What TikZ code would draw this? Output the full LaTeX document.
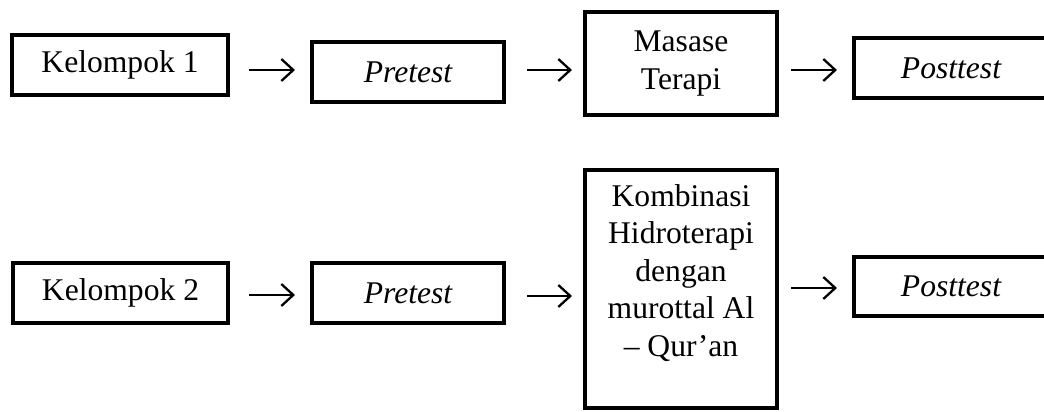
\documentclass[tikz,border=0pt]{standalone}
\usepackage{fontspec}
\setmainfont{Liberation Serif}
\usetikzlibrary{arrows.meta}
\begin{document}
\begin{tikzpicture}[x=1pt,y=-1pt,
  box/.style={draw, line width=4pt, inner sep=0pt, align=center,
    font=\fontsize{31.6}{37.5}\selectfont},
  arr/.style={line width=2.3pt, -{Straight Barb[length=12pt,width=22pt]}}]
\useasboundingbox (0,0) rectangle (1044,412);
% row 1
\node[box, minimum width=216pt, minimum height=60pt] (k1) at (120,65) {Kelompok 1};
\node[box, minimum width=192pt, minimum height=60pt] (p1) at (408,72) {\itshape Pretest};
\node[box, minimum width=192pt, minimum height=103pt] (m1) at (681,63.5) {Masase\\Terapi};
\node[box, minimum width=194pt, minimum height=60pt] (q1) at (951,68) {\itshape Posttest};
% row 2
\node[box, minimum width=215pt, minimum height=60pt] (k2) at (120.5,293) {Kelompok 2};
\node[box, minimum width=192pt, minimum height=60pt] (p2) at (408,293) {\itshape Pretest};
\node[box, minimum width=192pt, minimum height=238pt] (m2) at (681,289) {Kombinasi\\Hidroterapi\\dengan\\murottal Al\\– Qur’an\\[0pt]\mbox{}};
\node[box, minimum width=194pt, minimum height=59pt] (q2) at (951,286.5) {\itshape Posttest};
% row heights for arrows
\coordinate (y1) at (0,70);
\coordinate (y2) at (0,295);
\coordinate (y3) at (0,296);
\coordinate (y4) at (0,288);
\draw[arr, shorten <=19pt, shorten >=15pt] (k1.east |- y1) -- (p1.west |- y1);
\draw[arr, shorten <=21pt, shorten >=11pt] (p1.east |- y1) -- (m1.west |- y1);
\draw[arr, shorten <=12pt, shorten >=15pt] (m1.east |- y1) -- (q1.west |- y1);
\draw[arr, shorten <=19pt, shorten >=15pt] (k2.east |- y2) -- (p2.west |- y2);
\draw[arr, shorten <=21pt, shorten >=11pt] (p2.east |- y3) -- (m2.west |- y3);
\draw[arr, shorten <=12pt, shorten >=15pt] (m2.east |- y4) -- (q2.west |- y4);
\end{tikzpicture}
\end{document}
